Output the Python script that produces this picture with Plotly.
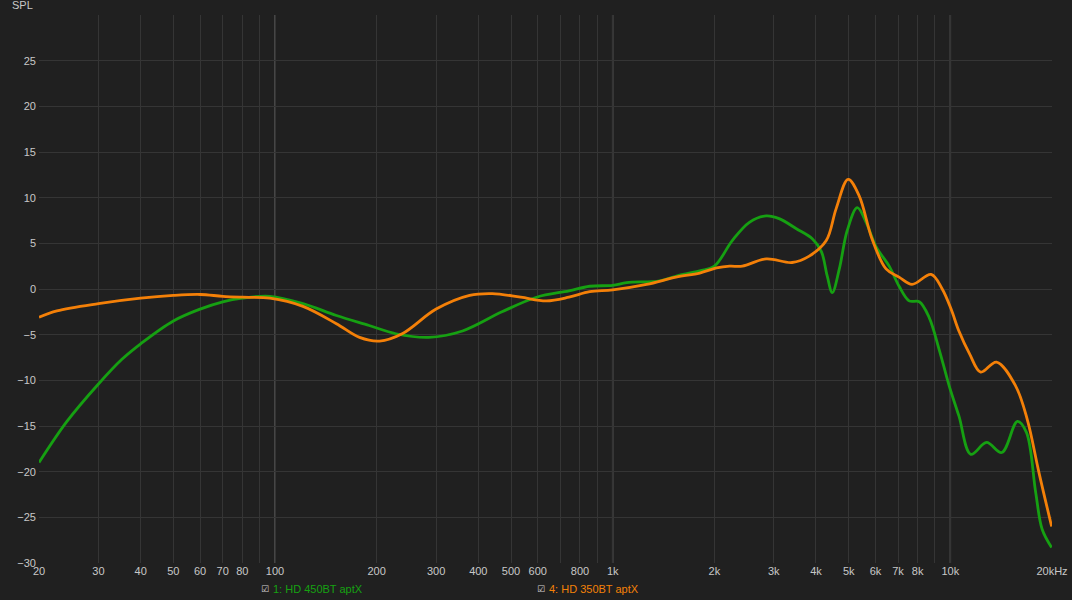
import plotly.graph_objects as go

# HD 450BT aptX (green)
green_freq = [20, 24.2, 30, 35.2, 40, 50, 60, 70, 80, 96.6, 121, 152, 190, 228, 285, 359, 470, 595, 742,
              855, 1000, 1100, 1380, 1570, 1810, 2000, 2260, 2540, 2850, 3110, 3500, 3900, 4150, 4320, 4470,
              4690, 4950, 5300, 5630, 6030, 6590, 7050, 7550, 8090, 8650, 9260, 9920, 10600, 11500, 12800,
              14200, 15800, 16800, 17900, 18700, 19950]
green_spl = [-19.0, -14.5, -10.4, -7.7, -6.0, -3.5, -2.2, -1.4, -1.0, -0.8, -1.6, -2.9, -4.0, -4.9, -5.3,
             -4.6, -2.5, -0.9, -0.2, 0.3, 0.4, 0.7, 0.9, 1.5, 2.0, 2.5, 5.3, 7.3, 8.0, 7.7, 6.6, 5.5, 4.1, 1.4,
             -0.4, 2.2, 6.4, 8.9, 7.3, 4.6, 2.5, 0.3, -1.3, -1.4, -3.1, -6.6, -10.6, -13.9, -18.1, -16.8,
             -17.9, -14.5, -15.7, -22.3, -26.3, -28.3]

# HD 350BT aptX (orange)
orange_freq = [20, 22.6, 30, 40, 50, 60, 70, 80, 96.6, 121, 152, 178, 204, 238, 300, 377, 440, 534, 636, 742,
               855, 1000, 1260, 1540, 1810, 2030, 2220, 2420, 2850, 3400, 3820, 4290, 4590, 4980, 5370, 5860,
               6450, 7050, 7700, 8770, 9460, 10050, 10600, 11400, 12300, 13700, 15600, 16900, 18300, 19950]
orange_spl = [-3.1, -2.4, -1.6, -1.0, -0.7, -0.6, -0.8, -0.9, -1.0, -1.9, -3.8, -5.3, -5.7, -4.9, -2.2, -0.7,
              -0.5, -0.9, -1.3, -0.9, -0.3, -0.1, 0.5, 1.3, 1.75, 2.3, 2.5, 2.5, 3.3, 2.9, 3.6, 5.3, 8.8, 12.0,
              10.2, 5.5, 2.2, 1.3, 0.5, 1.6, 0.0, -2.2, -4.6, -7.1, -9.1, -8.0, -10.6, -14.3, -20.1, -26.0]

x_grid = [20, 30, 40, 50, 60, 70, 80, 90, 100, 200, 300, 400, 500, 600, 700, 800, 900, 1000,
          2000, 3000, 4000, 5000, 6000, 7000, 8000, 9000, 10000, 20000]
x_labels = ["20", "30", "40", "50", "60", "70", "80", "", "100", "200", "300", "400", "500", "600", "",
            "800", "", "1k", "2k", "3k", "4k", "5k", "6k", "7k", "8k", "", "10k", "20kHz"]
y_ticks = [25, 20, 15, 10, 5, 0, -5, -10, -15, -20, -25, -30]
major_x = [100, 1000, 10000]

series_names = ["1: HD 450BT aptX", "4: HD 350BT aptX"]
green_c = "rgb(22,160,18)"
orange_c = "rgb(244,128,8)"
bg = "#202020"
txt = "#c8c8c8"
font = "Liberation Sans, Arial, sans-serif"

fig = go.Figure()
fig.add_trace(go.Scatter(x=green_freq, y=green_spl, mode="lines", name=series_names[0],
                         line=dict(color=green_c, width=2.8, shape="spline", smoothing=1.0)))
fig.add_trace(go.Scatter(x=orange_freq, y=orange_spl, mode="lines", name=series_names[1],
                         line=dict(color=orange_c, width=2.8, shape="spline", smoothing=1.0)))

for xv in major_x:
    fig.add_shape(type="line", xref="x", yref="paper", x0=xv, x1=xv, y0=0, y1=1,
                  line=dict(color="#555555", width=1.5), layer="between")

fig.update_layout(
    width=1072, height=600,
    margin=dict(l=39, r=20, t=15, b=37, autoexpand=False),
    paper_bgcolor=bg, plot_bgcolor=bg,
    showlegend=False,
    font=dict(family=font, size=11, color=txt),
    xaxis=dict(type="log", range=[1.30103, 4.30103], tickmode="array", tickvals=x_grid,
               ticktext=x_labels, showgrid=True, gridcolor="#353535", gridwidth=1, automargin=False,
               zeroline=False, showline=False, ticks="", tickfont=dict(size=11, color=txt)),
    yaxis=dict(range=[-30, 30], tickmode="array", tickvals=y_ticks, showgrid=True, automargin=False,
               gridcolor="#353535", gridwidth=1, zeroline=False, showline=False, ticks="",
               ticklabelstandoff=2, tickfont=dict(size=11, color=txt)),
)

fig.add_annotation(text="SPL", xref="paper", yref="paper", x=-0.004, y=1.0, xanchor="right",
                   yanchor="bottom", yshift=2, showarrow=False, font=dict(size=11, color=txt))

legend_items = [(265, series_names[0], green_c), (541, series_names[1], orange_c)]
for px, name, col in legend_items:
    xp = (px - 39) / (1072 - 39 - 20)
    fig.add_annotation(text="☑", xref="paper", yref="paper", x=xp, y=-0.048, xanchor="center",
                       yanchor="middle", showarrow=False,
                       font=dict(size=9, color="#d0d0d0", family="DejaVu Sans"))
    fig.add_annotation(text=name, xref="paper", yref="paper", x=xp + 6 / 1013, y=-0.048,
                       xanchor="left", yanchor="middle", showarrow=False,
                       font=dict(size=11, color=col, family=font))

fig.write_html("out.html", config={"displayModeBar": False},
               post_script="document.body.style.margin='0';document.body.style.overflow='hidden';"
                           "document.body.style.background='#202020';")
